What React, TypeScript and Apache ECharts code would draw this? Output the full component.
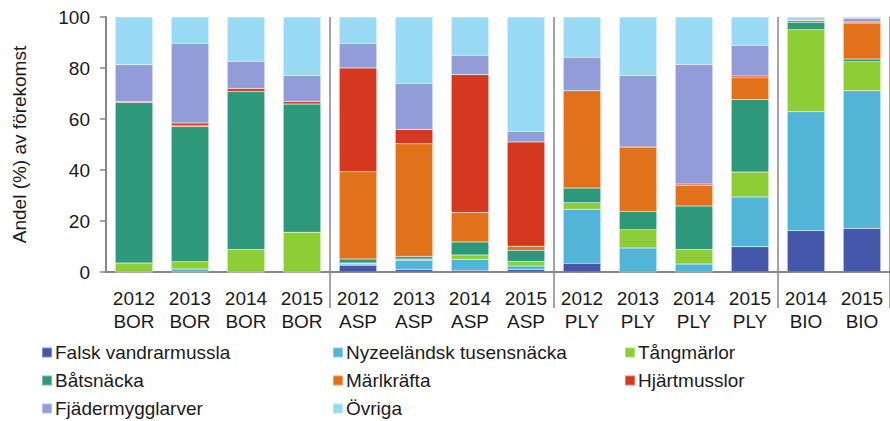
import React, { useEffect, useRef } from "react";
import * as echarts from "echarts";

const categories = [
  "2012\nBOR", "2013\nBOR", "2014\nBOR", "2015\nBOR",
  "2012\nASP", "2013\nASP", "2014\nASP", "2015\nASP",
  "2012\nPLY", "2013\nPLY", "2014\nPLY", "2015\nPLY",
  "2014\nBIO", "2015\nBIO",
];

const falskVandrarmussla = [0, 0, 0, 0, 2.6, 1.0, 0.7, 1.0, 3.4, 0, 0, 9.9, 16.3, 17.1];
const nyzeelandskTusensnacka = [0, 1.2, 0, 0, 0.5, 3.6, 4.3, 1.4, 21.2, 9.4, 3.1, 19.5, 46.6, 54.0];
const tangmarlor = [3.5, 2.8, 8.8, 15.6, 0.4, 0.5, 1.7, 1.7, 2.6, 7.2, 5.7, 9.8, 32.1, 11.4];
const batsnacka = [63.0, 53.0, 62.0, 50.3, 1.6, 1.0, 5.1, 4.4, 5.7, 7.2, 17.1, 28.4, 2.9, 1.0];
const marlkrafta = [0, 0.4, 0, 0, 34.2, 44.2, 11.5, 1.6, 38.2, 25.2, 8.1, 8.6, 0.8, 14.1];
const hjartmusslor = [0.3, 1.0, 1.2, 1.0, 40.7, 5.6, 54.1, 40.9, 0, 0, 0.5, 0.7, 0, 0.4];
const fjadermygglarver = [14.5, 31.3, 10.6, 10.2, 9.7, 18.1, 7.6, 4.2, 13.1, 28.1, 46.9, 12.0, 0, 1.5];
const ovriga = [18.7, 10.3, 17.4, 22.9, 10.3, 26.0, 15.0, 44.8, 15.8, 22.9, 18.6, 11.1, 1.3, 0.5];

const yTicks = [0, 20, 40, 60, 80, 100];
const groupBoundaries = [4, 8, 12];

const seriesDefs = [
  { name: "Falsk vandrarmussla", data: falskVandrarmussla, color: "#4457ab" },
  { name: "Nyzeeländsk tusensnäcka", data: nyzeelandskTusensnacka, color: "#52b4d7" },
  { name: "Tångmärlor", data: tangmarlor, color: "#8dcd35" },
  { name: "Båtsnäcka", data: batsnacka, color: "#2d987a" },
  { name: "Märlkräfta", data: marlkrafta, color: "#e1721b" },
  { name: "Hjärtmusslor", data: hjartmusslor, color: "#d6381f" },
  { name: "Fjädermygglarver", data: fjadermygglarver, color: "#929dd8" },
  { name: "Övriga", data: ovriga, color: "#98d9f3" },
];

const legendColumns = [
  ["Falsk vandrarmussla", "Båtsnäcka", "Fjädermygglarver"],
  ["Nyzeeländsk tusensnäcka", "Märlkräfta", "Övriga"],
  ["Tångmärlor", "Hjärtmusslor"],
];
const legendLefts = [41, 332, 624];

export default function App() {
  const ref = useRef<HTMLDivElement>(null);
  useEffect(() => {
    if (!ref.current) return;
    const chart = echarts.init(ref.current, null, { renderer: "svg" });
    const font = "'Liberation Sans', Arial, sans-serif";
    const axisColor = "#868686";
    chart.setOption({
      animation: false,
      backgroundColor: "#ffffff",
      textStyle: { fontFamily: font },
      grid: { left: 106, right: 0, top: 17, bottom: 149, containLabel: false },
      legend: legendColumns.map((col, i) => ({
        orient: "vertical",
        left: legendLefts[i],
        top: 343,
        padding: 0,
        data: col,
        icon: "rect",
        itemWidth: 10,
        itemHeight: 10,
        itemGap: 9,
        selectedMode: false,
        textStyle: { fontSize: 19, color: "#1a1a1a", fontFamily: font, lineHeight: 19, padding: [0, 0, 0, -2] },
      })),
      xAxis: {
        type: "category",
        data: categories,
        axisLine: { lineStyle: { color: axisColor, width: 2 } },
        axisTick: {
          show: true,
          length: 36,
          interval: (index: number) => groupBoundaries.includes(index),
          lineStyle: { color: axisColor, width: 1.5 },
        },
        splitLine: {
          show: true,
          interval: (index: number) => groupBoundaries.includes(index),
          lineStyle: { color: axisColor, width: 1.5 },
        },
        axisLabel: {
          interval: 0,
          fontSize: 19,
          lineHeight: 23,
          color: "#1a1a1a",
          margin: 15,
          fontFamily: font,
        },
      },
      yAxis: {
        type: "value",
        min: yTicks[0],
        max: yTicks[yTicks.length - 1],
        interval: 20,
        name: "Andel (%) av förekomst",
        nameLocation: "middle",
        nameGap: 77,
        nameTextStyle: { fontSize: 19, color: "#1a1a1a", fontFamily: font },
        axisLine: { show: true, lineStyle: { color: axisColor, width: 2 } },
        axisTick: { show: true, length: 6, lineStyle: { color: axisColor, width: 1.5 } },
        splitLine: { show: false },
        axisLabel: { fontSize: 19, color: "#1a1a1a", margin: 16, fontFamily: font },
      },
      series: seriesDefs.map((s) => ({
        name: s.name,
        type: "bar",
        stack: "total",
        data: s.data,
        barCategoryGap: "33%",
        itemStyle: { color: s.color, borderColor: "rgba(255,255,255,0.35)", borderWidth: 0.5 },
        emphasis: { disabled: true },
      })),
    });
    return () => chart.dispose();
  }, []);
  return (
    <div
      ref={ref}
      style={{ position: "fixed", left: 0, top: 0, width: 890, height: 421 }}
    />
  );
}
